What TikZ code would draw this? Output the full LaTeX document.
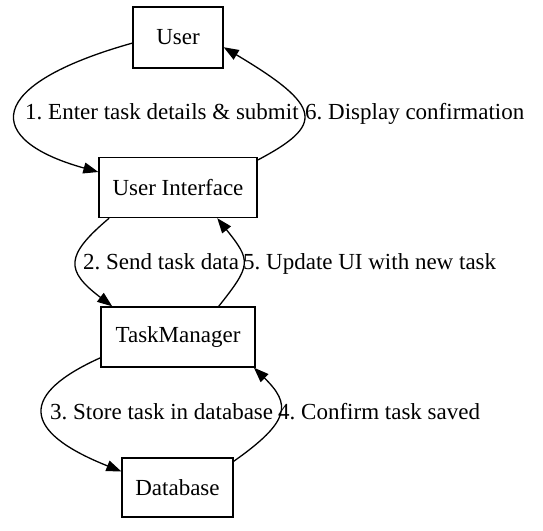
\documentclass[tikz,border=0pt]{standalone}
\usepackage{fontspec}
\setmainfont{Liberation Serif}
\usetikzlibrary{arrows.meta}
\frenchspacing

\begin{document}
\begin{tikzpicture}[x=1pt,y=-1pt,
    box/.style={draw,line width=1.3pt,inner sep=0pt,font=\fontsize{23}{27}\selectfont},
    lbl/.style={inner sep=0pt,anchor=base west,font=\fontsize{23}{27}\selectfont},
    flow/.style={line width=1.3pt,-{Triangle[length=15pt,width=11pt]}}]
            \useasboundingbox (0,0) rectangle (543,530);

            \node[box,minimum width=90pt,minimum height=61pt] (U) at (178, 37.5) {User};
            \node[box,minimum width=158pt,minimum height=60pt] (UI) at (178, 187.5) {User Interface};
            \node[box,minimum width=154pt,minimum height=60pt] (TM) at (178, 337) {TaskManager};
            \node[box,minimum width=111pt,minimum height=59pt] (DB) at (177.5, 487.5) {Database};

            \node[lbl] (L1) at (25, 119.5) {1. Enter task details \& submit};
            \node[lbl] (L6) at (305, 119.5) {6. Display confirmation};
            \node[lbl] (L2) at (83, 269.5) {2. Send task data};
            \node[lbl] (L5) at (243, 269.5) {5. Update UI with new task};
            \node[lbl] (L3) at (50, 419.5) {3. Store task in database};
            \node[lbl] (L4) at (278, 419.5) {4. Confirm task saved};

            \draw[flow] (U.187) .. controls (-17, 85) and (-17, 140) .. (UI.169);
            \draw[flow] (UI.19) .. controls (324, 125) and (324, 107) .. (U.348);
            \draw[flow] (UI.204) .. controls (65, 255.5) and (65, 270.5) .. (TM.155);
            \draw[flow] (TM.37) .. controls (251.5, 265) and (251.5, 261) .. (UI.322);
            \draw[flow] (TM.195) .. controls (20, 394) and (20, 431) .. (DB.164);
            \draw[flow] (DB.25) .. controls (291, 421) and (291, 404) .. (TM.338);

        \end{tikzpicture}
\end{document}
